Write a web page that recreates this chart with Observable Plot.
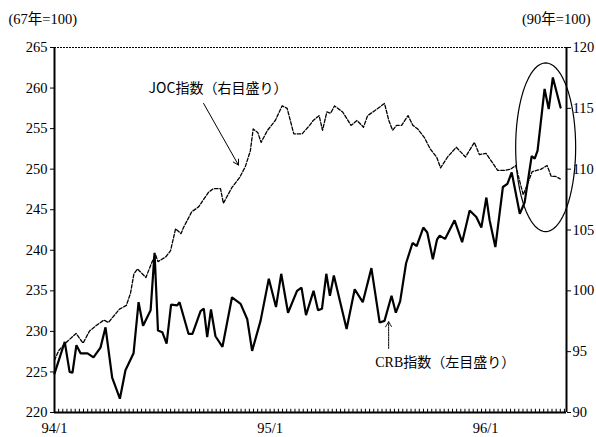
<!DOCTYPE html>
<html><head><meta charset="utf-8">
<script src="https://cdn.jsdelivr.net/npm/d3@7"></script>
<script src="https://cdn.jsdelivr.net/npm/@observablehq/plot@0.6"></script>
<style>
body{margin:0;background:#fff;}
#chart svg{display:block;}
</style>
</head><body><div id="chart"></div>
<script>
// months since 94/1
const crbT = [0.0,0.57,0.84,1.0,1.22,1.45,1.84,2.17,2.56,2.84,
  3.21,3.64,3.95,4.40,4.68,4.93,5.35,5.57,5.76,6.0,
  6.24,6.49,6.83,6.96,7.46,7.68,8.13,8.31,8.5,8.71,
  8.96,9.35,9.88,10.36,10.73,11.0,11.47,11.93,12.33,12.62,
  13.0,13.5,13.75,14.0,14.42,14.67,14.89,15.13,15.33,15.55,
  16.26,16.71,17.16,17.64,18.1,18.37,18.76,19.0,19.24,19.57,
  19.93,20.16,20.53,20.75,21.06,21.29,21.44,21.74,22.27,22.69,
  23.11,23.48,23.76,24.04,24.22,24.54,24.96,25.21,25.45,25.90,
  26.17,26.56,26.73,26.89,27.28,27.51,27.74,28.17];
const crbV = [224.8,228.7,225.0,224.9,228.3,227.3,227.3,226.8,228.0,230.5,
  224.3,221.7,225.2,227.3,233.6,230.7,232.6,239.7,230.1,229.9,
  228.5,233.3,233.2,233.6,229.7,229.7,232.5,232.8,229.3,232.7,
  229.4,228.1,234.2,233.4,231.5,227.6,231.3,236.5,233.0,237.1,
  232.3,235.0,235.4,232.0,235.0,232.6,232.8,237.1,234.4,236.9,
  230.3,235.2,233.6,237.8,231.1,231.3,234.4,232.3,233.7,238.4,
  240.9,240.5,242.8,242.2,238.9,241.3,241.8,241.4,243.7,241.0,
  244.9,244.1,242.8,246.5,243.7,240.4,247.8,248.2,249.6,244.5,
  245.9,251.6,251.3,252.3,259.9,257.4,261.3,257.6];
const jocT = [0.0,0.24,0.61,1.2,1.59,1.95,2.28,2.75,3.0,3.62,
  4.0,4.23,4.42,4.62,5.09,5.38,5.62,5.76,6.2,6.46,
  6.74,7.04,7.18,7.64,8.02,8.57,8.85,9.24,9.4,9.88,
  10.3,10.62,10.9,11.06,11.32,11.5,11.86,12.29,12.67,12.95,
  13.32,13.78,14.2,14.4,14.73,14.92,15.16,15.37,15.59,16.04,
  16.51,16.84,17.2,17.43,17.82,18.37,18.61,18.82,19.04,19.32,
  19.68,19.95,20.22,20.59,20.9,21.05,21.27,21.49,21.88,22.36,
  22.88,23.37,23.65,24.02,24.67,25.04,25.39,25.67,26.09,26.31,
  26.59,26.84,27.09,27.42,27.65,27.9,28.15];
const jocV = [94.3,95.1,95.7,96.5,95.7,96.7,97.1,97.6,97.4,98.5,
  98.8,99.8,101.4,101.8,101.1,102.2,103.0,102.4,102.8,103.3,
  105.1,104.7,105.2,106.5,106.9,108.1,108.4,108.4,107.2,108.5,
  109.3,110.2,111.5,113.3,113.0,112.2,113.2,114.0,115.2,115.0,
  112.9,112.9,113.6,114.0,114.4,113.2,114.7,114.6,115.2,114.7,
  113.6,114.0,113.45,114.4,114.8,115.4,114.0,113.2,113.6,113.6,
  114.4,113.6,113.3,112.6,111.7,111.4,111.0,110.1,111.0,111.8,
  111.0,112.2,111.2,111.3,109.9,109.9,110.0,110.3,107.9,108.7,
  109.8,109.9,110.0,110.3,109.4,109.4,109.2];
const leftTicks = [220,225,230,235,240,245,250,255,260,265];
const rightTicks = [90,95,100,105,110,115,120];
const xTicks = [0,12,24];
const xTickLabels = ["94/1","95/1","96/1"];
const xEnd = 28.5;
const leftUnit = "(67年=100)";
const rightUnit = "(90年=100)";
const jocLabel = "JOC指数（右目盛り）";
const crbLabel = "CRB指数（左目盛り）";
// annotation anchors in data space [month, left-scale value]
const jocLabelAt = [9.1, 259.9];
const jocArrow = [8.3, 258.1, 10.24, 250.5];
const crbLabelAt = [21.75, 226.2];
const crbArrow = [18.6, 227.9, 18.6, 231.2];
const circle = {cx: 27.34, cy: 252.7, rx: 1.67, ry: 10.4};

const toLeft = v => 220 + (v - 90) * 1.5;
const crb = crbT.map((t, i) => ({t, v: crbV[i]}));
const joc = jocT.map((t, i) => ({t, v: toLeft(jocV[i])}));
const weekly = d3.range(0, xEnd, 12 / 52);
const ell = d3.range(0, 361, 5).map(a => ({
  t: circle.cx + circle.rx * Math.cos(a * Math.PI / 180),
  v: circle.cy + circle.ry * Math.sin(a * Math.PI / 180)
}));
const numFont = "'Liberation Serif','Noto Sans CJK JP',serif";

const chart = Plot.plot({
  width: 596, height: 437,
  marginLeft: 54, marginRight: 30, marginTop: 47, marginBottom: 25,
  x: {domain: [0, xEnd]},
  y: {domain: [220, 265]},
  style: {fontFamily: numFont, fontSize: "14px", color: "#000", background: "#fff"},
  marks: [
    Plot.ruleY([265], {stroke: "#000", strokeWidth: 1, strokeDasharray: "2,1"}),
    Plot.ruleX(weekly, {y1: 220, y2: 220.4, stroke: "#000", strokeWidth: 1}),
    Plot.axisY({ticks: leftTicks, tickSize: 4, tickPadding: 3, label: null, tickFormat: d => d, fontSize: 14.5}),
    Plot.axisY({anchor: "right", ticks: rightTicks.map(toLeft), tickSize: 4, tickPadding: 2, label: null,
      tickFormat: d => String(Math.round((d - 220) / 1.5 + 90)), fontSize: 14.5}),
    Plot.axisX({ticks: xTicks, tickSize: 0, tickPadding: 10, label: null,
      tickFormat: d => xTickLabels[xTicks.indexOf(d)], fontSize: 14.5}),
    Plot.ruleX([0, xEnd], {stroke: "#000", strokeWidth: 2}),
    Plot.ruleY([220], {stroke: "#000", strokeWidth: 2}),
    Plot.line(joc, {x: "t", y: "v", stroke: "#000", strokeWidth: 1.3, strokeDasharray: "3.5,1.8"}),
    Plot.line(crb, {x: "t", y: "v", stroke: "#000", strokeWidth: 2.2, strokeLinejoin: "miter"}),
    Plot.line(ell, {x: "t", y: "v", stroke: "#000", strokeWidth: 1.2, curve: "linear"}),
    Plot.arrow([jocArrow], {x1: d => d[0], y1: d => d[1], x2: d => d[2], y2: d => d[3],
      stroke: "#000", strokeWidth: 1, headLength: 9}),
    Plot.arrow([crbArrow], {x1: d => d[0], y1: d => d[1], x2: d => d[2], y2: d => d[3],
      stroke: "#000", strokeWidth: 1, headLength: 9, strokeDasharray: "1.5,1"}),
    Plot.text([jocLabel], {x: jocLabelAt[0], y: jocLabelAt[1], text: d => d,
      fontFamily: "'Noto Sans CJK JP',sans-serif", fontSize: 14, fill: "#000"}),
    Plot.text([crbLabel], {x: crbLabelAt[0], y: crbLabelAt[1], text: d => d,
      fontFamily: "'Liberation Serif','Noto Sans CJK JP',serif", fontSize: 14, fill: "#000"}),
    Plot.text([leftUnit], {frameAnchor: "top-left", dx: -46, dy: -28, textAnchor: "start",
      lineAnchor: "middle", text: d => d, fontSize: 14.5, fill: "#000"}),
    Plot.text([rightUnit], {frameAnchor: "top-right", dx: 24, dy: -28, textAnchor: "end",
      lineAnchor: "middle", text: d => d, fontSize: 14.5, fill: "#000"})
  ]
});
document.getElementById("chart").appendChild(chart);
</script>
</body></html>
